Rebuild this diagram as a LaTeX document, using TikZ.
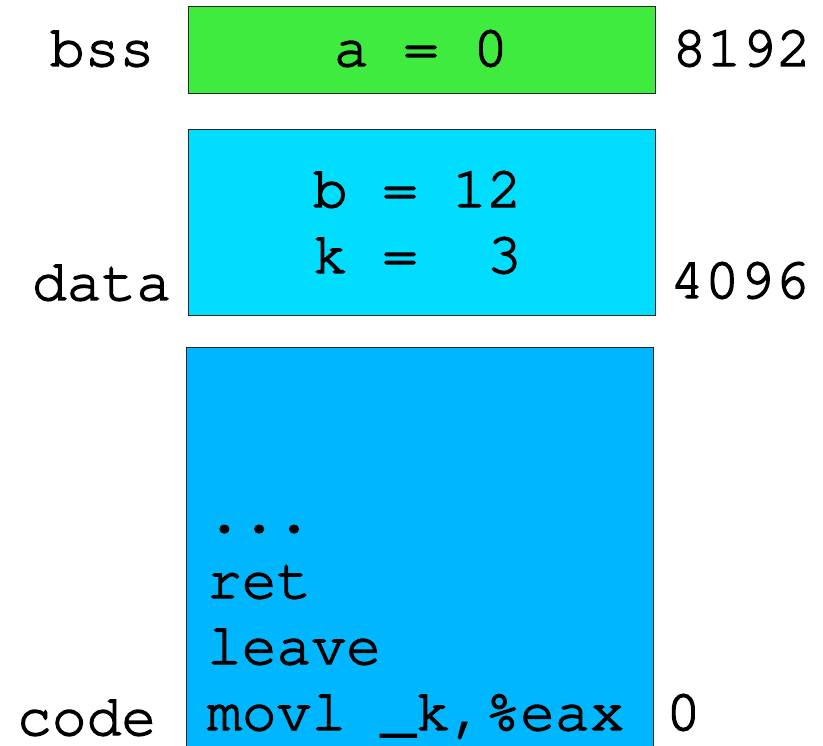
\documentclass[tikz,border=0pt]{standalone}
\usepackage{fontspec}
\setmainfont{TeX Gyre Cursor}[FakeBold=2.5]
\begin{document}
\begin{tikzpicture}[x=1pt,y=-1pt,
  seg/.style={draw=black!85,line width=1pt},
  txt/.style={inner sep=0pt,outer sep=0pt,anchor=base west,font=\fontsize{58}{66}\selectfont},
  lbl/.style={txt}]
\definecolor{bssgreen}{RGB}{63,235,63}
\definecolor{datacyan}{RGB}{0,221,255}
\definecolor{codeblue}{RGB}{0,183,255}
\useasboundingbox (0,0) rectangle (823,746);
\begin{scope}
\clip (0,0) rectangle (823,746);
\path[seg,fill=bssgreen] (188,7) rectangle (655,94);
\path[seg,fill=datacyan] (188,130) rectangle (655,316);
\path[seg,fill=codeblue] (186,348) rectangle (653,760);
\end{scope}
\node[lbl] (bss) at (50,66) {bss};
\node[txt,anchor=base] (a) at (421,66) {a = 0};
\node[lbl] (n8192) at (672,66) {8192};
\node[txt] (b) at (313,207) {b = 12};
\node[txt] (k) at (313,273) {k =\ \ 3};
\node[lbl] (data) at (32,300) {data};
\node[lbl] (n4096) at (670,298) {4096};
\node[txt] (dots) at (207,532) {...};
\node[txt] (ret) at (207,598) {ret};
\node[txt] (leave) at (207,664) {leave};
\node[txt] (movl) at (207,730) {movl \_k,\%eax};
\node[lbl] (code) at (17,735) {code};
\node[lbl] (zero) at (666,730) {0};
\end{tikzpicture}
\end{document}
